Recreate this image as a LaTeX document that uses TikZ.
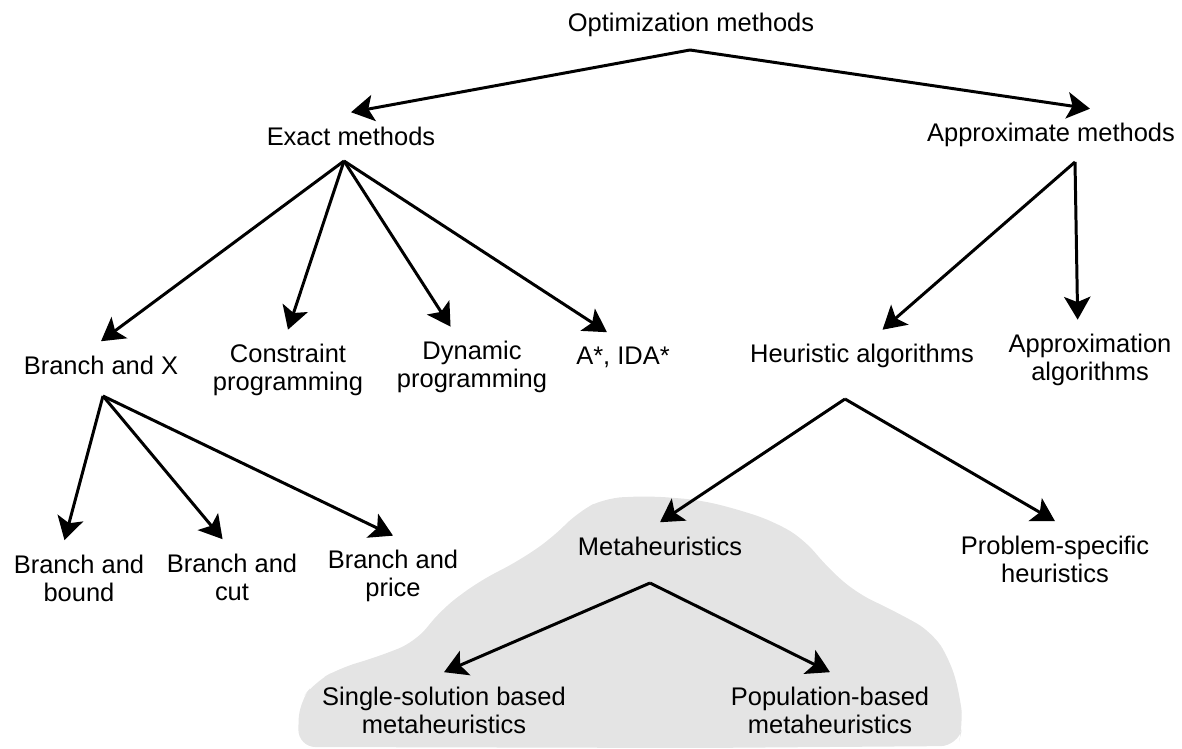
\documentclass[tikz,border=0pt]{standalone}
\usepackage{fontspec}
\setmainfont{Liberation Sans}
\usetikzlibrary{arrows.meta}
\definecolor{blobgray}{RGB}{228,228,228}

\begin{document}
\begin{tikzpicture}[x=0.02cm,y=-0.02cm,
    lbl/.style={align=center,inner sep=8pt,font=\fontsize{14.5}{16}\selectfont},
    arr/.style={-{Stealth[length=13pt,width=15pt,inset=3pt]},line width=1.7pt,line join=round}]
        \useasboundingbox (0,0) rectangle (1182,749);
        % shaded area of the metaheuristics
        \fill[blobgray,rounded corners=10pt] (298,747) -- (299,702) -- (315,682) -- (340,668) -- (377,657) -- (415,642) -- (443,608) -- (478,582) -- (520,560) -- (552,538) -- (578,512) -- (605,498) -- (650,496) -- (700,500) -- (740,510) -- (775,522) -- (805,540) -- (825,565) -- (855,592) -- (900,614) -- (932,632) -- (950,660) -- (960,695) -- (963,725) -- (958,746) -- (700,748) -- cycle;
        \node[lbl] (opt) at (691,25) {Optimization methods};
        \node[lbl] (ex) at (351,136) {Exact methods};
        \node[lbl] (apx) at (1051,135) {Approximate methods};
        \node[lbl] (bx) at (101,365) {Branch and X};
        \node[lbl] (cp) at (288,370) {Constraint\\programming};
        \node[lbl] (dp) at (472,367) {Dynamic\\programming};
        \node[lbl] (ida) at (623,357) {A*, IDA*};
        \node[lbl] (ha) at (862,356) {Heuristic algorithms};
        \node[lbl] (aa) at (1090,360) {Approximation\\algorithms};
        \node[lbl] (bb) at (79,578) {Branch and\\bound};
        \node[lbl] (bc) at (232,577) {Branch and\\cut};
        \node[lbl] (bp) at (393,576) {Branch and\\price};
        \node[lbl] (mh) at (660,546) {Metaheuristics};
        \node[lbl] (ps) at (1055,559) {Problem-specific\\heuristics};
        \node[lbl] (ss) at (444,710) {Single-solution based\\metaheuristics};
        \node[lbl] (pb) at (830,710) {Population-based\\metaheuristics};
        % branching points
        \coordinate (opt-s) at (690,50);
        \coordinate (ex-s) at (344,161);
        \coordinate (apx-s) at (1075,162);
        \coordinate (bx-s) at (103,396);
        \coordinate (ha-s) at (845,399);
        \coordinate (mh-s) at (650,583);
        \draw[arr] (opt-s) -- (ex.north);
        \draw[arr] (opt-s) -- (apx.34);
        \draw[arr] (ex-s) -- (bx.north);
        \draw[arr] (ex-s) -- (cp.north);
        \draw[arr] (ex-s) -- (dp.118);
        \draw[arr] (ex-s) -- (ida.123);
        \draw[arr] (apx-s) -- (ha.52);
        \draw[arr] (apx-s) -- (aa.107);
        \draw[arr] (bx-s) -- (bb.111);
        \draw[arr] (bx-s) -- (bc.104);
        \draw[arr] (bx-s) -- (bp.north);
        \draw[arr] (ha-s) -- (mh.north);
        \draw[arr] (ha-s) -- (ps.north);
        \draw[arr] (mh-s) -- (ss.north);
        \draw[arr] (mh-s) -- (pb.north);
\end{tikzpicture}
\end{document}
